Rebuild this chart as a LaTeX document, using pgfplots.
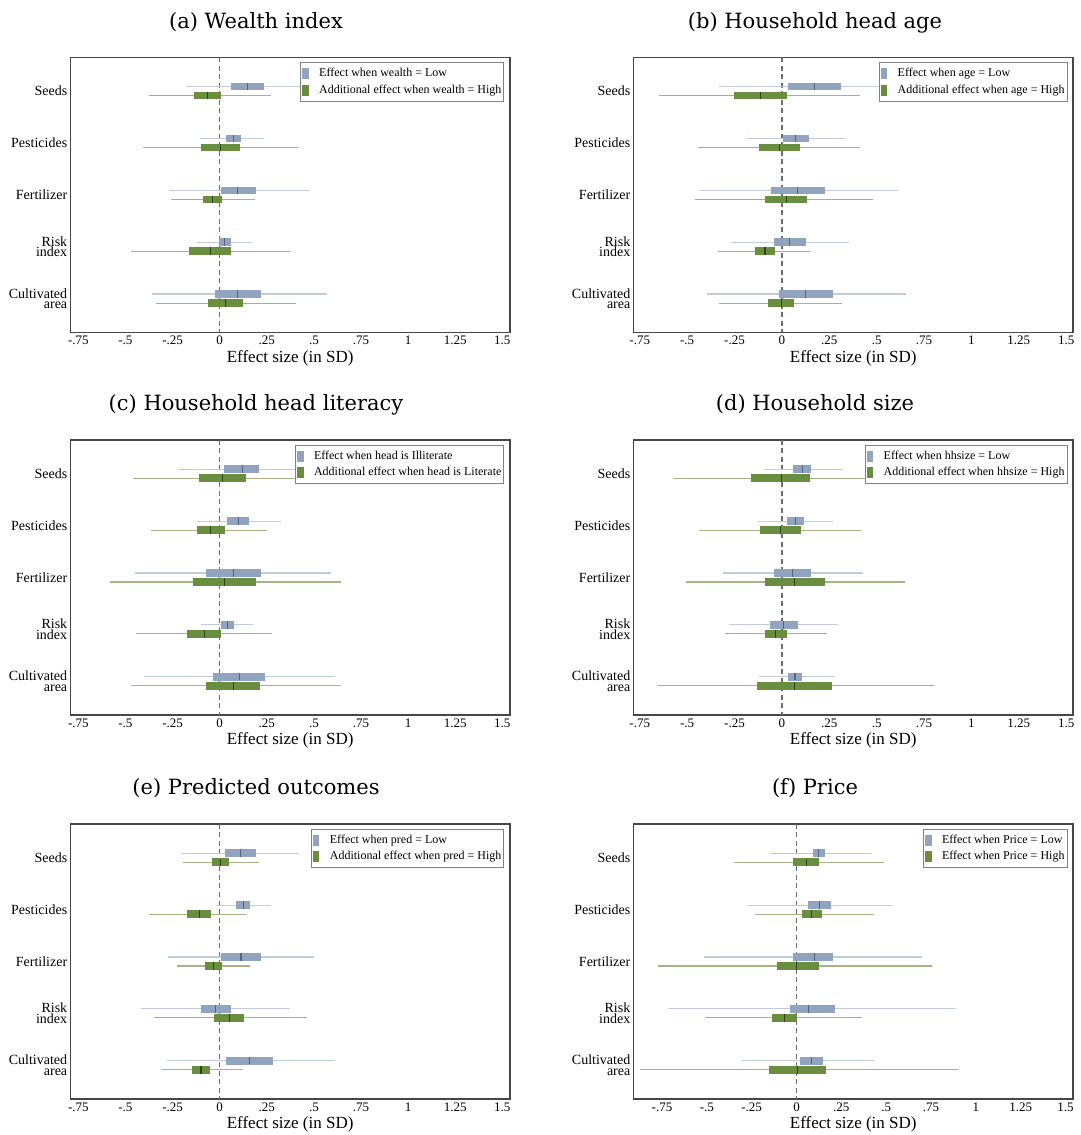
\documentclass[border=0pt]{standalone}
\usepackage{fontspec}
\newfontfamily\tnr{Liberation Serif}
\newfontfamily\ttl{DejaVu Serif}
\usepackage{pgfplots}
\usepackage{pgfplotstable}
\pgfplotsset{compat=1.18}
\definecolor{barblue}{RGB}{144,164,192}
\definecolor{lineblue}{RGB}{192,204,220}
\definecolor{tickblue}{RGB}{84,100,130}
\definecolor{bargreen}{RGB}{106,142,64}
\definecolor{linegreen}{RGB}{164,180,134}
\definecolor{tickgreen}{RGB}{44,66,26}
\definecolor{axisgray}{RGB}{70,70,70}
\definecolor{zerogray}{RGB}{110,110,110}
\definecolor{leggray}{RGB}{130,130,130}

% columns: y est lo hi lo2 hi2  (lo/hi: thin interval, lo2/hi2: thick interval)
\pgfplotstableread{
y est lo hi lo2 hi2
0.913 0.148 -0.177 0.473 0.060 0.237
1.913 0.073 -0.104 0.234 0.036 0.111
2.913 0.097 -0.268 0.474 0.005 0.195
3.913 0.027 -0.122 0.170 -0.005 0.062
4.913 0.097 -0.359 0.568 -0.026 0.221
}\tAb
\pgfplotstableread{
y est lo hi lo2 hi2
1.087 -0.066 -0.374 0.270 -0.137 0.005
2.087 0.005 -0.405 0.420 -0.100 0.109
3.087 -0.036 -0.259 0.188 -0.086 0.015
4.087 -0.049 -0.469 0.376 -0.161 0.060
5.087 0.029 -0.338 0.403 -0.062 0.122
}\tAg
\pgfplotstableread{
y est lo hi lo2 hi2
0.913 0.174 -0.334 0.680 0.034 0.314
1.913 0.074 -0.189 0.338 0.005 0.143
2.913 0.083 -0.432 0.610 -0.060 0.225
3.913 0.042 -0.269 0.356 -0.040 0.125
4.913 0.125 -0.394 0.655 -0.015 0.267
}\tBb
\pgfplotstableread{
y est lo hi lo2 hi2
1.087 -0.114 -0.646 0.410 -0.252 0.025
2.087 -0.013 -0.443 0.414 -0.120 0.094
3.087 0.024 -0.456 0.479 -0.087 0.134
4.087 -0.089 -0.338 0.152 -0.143 -0.034
5.087 -0.002 -0.330 0.319 -0.071 0.065
}\tBg
\pgfplotstableread{
y est lo hi lo2 hi2
0.913 0.119 -0.223 0.461 0.024 0.210
1.913 0.099 -0.122 0.325 0.040 0.157
2.913 0.075 -0.447 0.593 -0.071 0.217
3.913 0.040 -0.099 0.179 0.007 0.075
4.913 0.104 -0.400 0.611 -0.036 0.239
}\tCb
\pgfplotstableread{
y est lo hi lo2 hi2
1.087 0.016 -0.460 0.492 -0.108 0.141
2.087 -0.049 -0.365 0.252 -0.120 0.027
3.087 0.027 -0.582 0.644 -0.139 0.193
4.087 -0.082 -0.442 0.279 -0.173 0.009
5.087 0.073 -0.473 0.644 -0.071 0.215
}\tCg
\pgfplotstableread{
y est lo hi lo2 hi2
0.913 0.107 -0.094 0.319 0.058 0.152
1.913 0.071 -0.127 0.269 0.025 0.118
2.913 0.058 -0.310 0.428 -0.040 0.152
3.913 0.007 -0.279 0.294 -0.064 0.083
4.913 0.069 -0.122 0.279 0.031 0.107
}\tDb
\pgfplotstableread{
y est lo hi lo2 hi2
1.087 -0.002 -0.575 0.571 -0.162 0.147
2.087 -0.007 -0.437 0.419 -0.114 0.102
3.087 0.065 -0.508 0.652 -0.091 0.225
4.087 -0.033 -0.298 0.238 -0.089 0.029
5.087 0.065 -0.657 0.804 -0.131 0.263
}\tDg
\pgfplotstableread{
y est lo hi lo2 hi2
0.913 0.111 -0.199 0.421 0.027 0.193
1.913 0.126 -0.016 0.270 0.089 0.162
2.913 0.113 -0.272 0.502 0.007 0.219
3.913 -0.022 -0.418 0.374 -0.100 0.058
4.913 0.159 -0.281 0.611 0.036 0.281
}\tEb
\pgfplotstableread{
y est lo hi lo2 hi2
1.087 0.005 -0.195 0.210 -0.042 0.051
2.087 -0.109 -0.374 0.146 -0.173 -0.047
3.087 -0.033 -0.228 0.162 -0.078 0.015
4.087 0.051 -0.347 0.462 -0.031 0.130
5.087 -0.099 -0.310 0.124 -0.146 -0.053
}\tEg
\pgfplotstableread{
y est lo hi lo2 hi2
0.913 0.125 -0.150 0.420 0.090 0.161
1.913 0.127 -0.273 0.530 0.065 0.190
2.913 0.098 -0.518 0.702 -0.017 0.205
3.913 0.065 -0.718 0.887 -0.038 0.215
4.913 0.083 -0.303 0.430 0.021 0.146
}\tFb
\pgfplotstableread{
y est lo hi lo2 hi2
1.087 0.058 -0.347 0.488 -0.017 0.127
2.087 0.086 -0.234 0.430 0.029 0.142
3.087 0.002 -0.775 0.756 -0.111 0.127
4.087 -0.069 -0.511 0.363 -0.136 0.000
5.087 0.008 -0.871 0.906 -0.154 0.167
}\tFg

\pgfplotsset{
  panel/.style={
    scale only axis, width=439.5pt, height=275pt, anchor=north west,
    ymin=0.35, ymax=5.65, y dir=reverse,
    ytick={1,2,3,4,5},
    yticklabels={Seeds,Pesticides,Fertilizer,{Risk\\index},{Cultivated\\area}},
    xtick={-0.75,-0.5,-0.25,0,0.25,0.5,0.75,1,1.25,1.5},
    xticklabels={-.75,-.5,-.25,0,.25,.5,.75,1,1.25,1.5},
    major tick length=0pt,
    axis line style={draw=axisgray, line width=1.3pt},
    xticklabel style={font=\tnr\fontsize{13}{13}\selectfont},
    yticklabel style={font=\tnr\fontsize{14}{10.5}\selectfont, align=right, inner sep=3pt},
    xlabel={Effect size (in SD)},
    xlabel style={font=\tnr\fontsize{17}{17}\selectfont, inner sep=2pt},
    legend cell align=left,
    legend style={at={(1,1)}, anchor=north east, xshift=-5.5pt, yshift=-5pt,
      draw=leggray, line width=1pt, fill=white,
      font=\tnr\fontsize{12}{12}\selectfont,
      inner xsep=1.5pt, inner ysep=4pt, row sep=2.5pt,
      nodes={inner sep=1pt, text height=9pt, text depth=3pt}},
  },
  zeroline/.style={forget plot, color=zerogray, line width=1.2pt, dash pattern=on 5pt off 3.5pt},
  cithin/.style={forget plot, draw=none, mark=none, error bars/.cd, x dir=both, x explicit, error mark=none,
    error bar style={draw=#1, line width=1.1pt}},
  cithick/.style={forget plot, draw=none, mark=none, error bars/.cd, x dir=both, x explicit, error mark=none,
    error bar style={draw=#1, line width=7.5pt}},
  estmark/.style={forget plot, draw=none, mark=none, error bars/.cd, y dir=both, y fixed=0.072, error mark=none,
    error bar style={draw=#1, line width=1.1pt}},
}

\newcommand{\panel}[8]{%
\begin{axis}[panel, at={(#1pt,#2pt)}, xmin=#3, xmax=#4]
  \addplot[zeroline] coordinates {(0,0.35) (0,5.65)};
  \addplot[cithin=lineblue] table[x=est, y=y, x error plus expr=\thisrow{hi}-\thisrow{est}, x error minus expr=\thisrow{est}-\thisrow{lo}] {#5};
  \addplot[cithin=linegreen] table[x=est, y=y, x error plus expr=\thisrow{hi}-\thisrow{est}, x error minus expr=\thisrow{est}-\thisrow{lo}] {#6};
  \addplot[cithick=barblue] table[x=est, y=y, x error plus expr=\thisrow{hi2}-\thisrow{est}, x error minus expr=\thisrow{est}-\thisrow{lo2}] {#5};
  \addplot[cithick=bargreen] table[x=est, y=y, x error plus expr=\thisrow{hi2}-\thisrow{est}, x error minus expr=\thisrow{est}-\thisrow{lo2}] {#6};
  \addplot[estmark=tickblue] table[x=est, y=y] {#5};
  \addplot[estmark=tickgreen] table[x=est, y=y] {#6};
  \addlegendimage{legend image code/.code={\fill[barblue] (0pt,-5pt) rectangle (5.5pt,5pt); \path (15pt,0pt);}}
  \addlegendentry{#7}
  \addlegendimage{legend image code/.code={\fill[bargreen] (0pt,-5pt) rectangle (5.5pt,5pt); \path (15pt,0pt);}}
  \addlegendentry{#8}
\end{axis}}

\begin{document}
\begin{tikzpicture}
\useasboundingbox (0pt,0pt) rectangle (1081pt,1135pt);
\panel{70.4}{1077.7}{-0.792}{1.540}{\tAb}{\tAg}{Effect when wealth = Low}{Additional effect when wealth = High}
\panel{633.5}{1077.7}{-0.783}{1.536}{\tBb}{\tBg}{Effect when age = Low}{Additional effect when age = High}
\panel{70.4}{695}{-0.792}{1.540}{\tCb}{\tCg}{Effect when head is Illiterate}{Additional effect when head is Literate}
\panel{633.5}{695}{-0.783}{1.536}{\tDb}{\tDg}{Effect when hhsize = Low}{Additional effect when hhsize = High}
\panel{70.4}{311}{-0.792}{1.540}{\tEb}{\tEg}{Effect when pred = Low}{Additional effect when pred = High}
\panel{633.5}{311}{-0.909}{1.542}{\tFb}{\tFg}{Effect when Price = Low}{Effect when Price = High}
\begin{scope}[every node/.style={font=\ttl\fontsize{21}{21}\selectfont, anchor=base}]
\node at (256pt,1106.7pt) {(a) Wealth index};
\node at (815pt,1106.7pt) {(b) Household head age};
\node at (256pt,724pt) {(c) Household head literacy};
\node at (815pt,724pt) {(d) Household size};
\node at (256pt,340pt) {(e) Predicted outcomes};
\node at (815pt,340pt) {(f) Price};
\end{scope}
\end{tikzpicture}
\end{document}
